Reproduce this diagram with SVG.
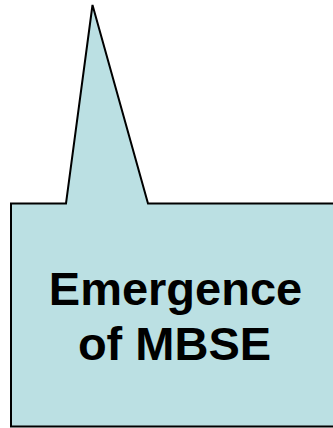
<svg xmlns="http://www.w3.org/2000/svg" width="333" height="428" viewBox="0 0 333 428">
<style>
.shape{fill:#BBE0E3;stroke:#000;stroke-width:2;stroke-linejoin:miter}
.lbl{font-family:"Liberation Sans",Arial,sans-serif;font-weight:bold;font-size:47px;fill:#000;text-anchor:middle}
</style>
<rect width="333" height="428" fill="#fff"/>
<g id="callout">
<path class="shape" d="M11,203.5 L66,203.5 L92.5,5 L148,203.5 L345,203.5 L345,426.5 L11,426.5 Z"/>
<text class="lbl" x="175.5" y="305">Emergence</text>
<text class="lbl" x="174.5" y="360">of MBSE</text>
</g>
<g id="connectors"/>
</svg>
